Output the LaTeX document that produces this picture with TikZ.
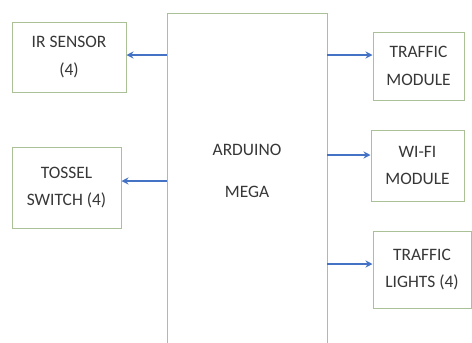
\documentclass[tikz,border=0pt]{standalone}
\usepackage{fontspec}
\setmainfont{Carlito}
\usetikzlibrary{positioning,arrows.meta}
\definecolor{boxgreen}{RGB}{170,192,150}
\definecolor{arrowblue}{RGB}{68,114,196}
\definecolor{txtgrey}{RGB}{55,55,55}
\begin{document}
\begin{tikzpicture}[x=1bp,y=-1bp,font=\fontsize{17.5}{28}\selectfont,
		blk/.style={draw=boxgreen,line width=1pt,align=center,inner sep=0pt,text=txtgrey},
		link/.style={-{Stealth[length=7pt,width=7pt]},draw=arrowblue,line width=1.8pt}]
		\useasboundingbox[fill=white] (0,0) rectangle (472,342);
		% controller
		\node[blk,minimum width=160bp,minimum height=334bp] (mega) at (247,180) {};
		\node[align=center,font=\fontsize{17.5}{42}\selectfont,text=txtgrey] (megatxt) at (247,171) {ARDUINO\\MEGA};
		% inputs
		\node[blk,minimum width=114bp,minimum height=70bp] (ir) at (69,57) {IR SENSOR\\(4)};
		\node[blk,minimum width=109bp,minimum height=81bp] (tossel) at (66.5,187.5) {TOSSEL\\SWITCH (4)};
		% outputs
		\node[blk,minimum width=91bp,minimum height=68bp] (tmod) at (418.5,66) {TRAFFIC\\MODULE};
		\node[blk,minimum width=93bp,minimum height=71bp] (wifi) at (417.5,165.5) {WI-FI\\MODULE};
		\node[blk,minimum width=98bp,minimum height=77bp] (tlight) at (422,269.5) {TRAFFIC\\LIGHTS (4)};
		\coordinate (m1) at (167,55);
		\coordinate (m2) at (167,181);
		\coordinate (m3) at (327,55);
		\coordinate (m4) at (327,155);
		\coordinate (m5) at (327,264);
		\path
			(m1) edge[link] (m1 -| ir.east)
			(m2) edge[link] (m2 -| tossel.east)
			(m3) edge[link] (m3 -| tmod.west)
			(m4) edge[link] (m4 -| wifi.west)
			(m5) edge[link] (m5 -| tlight.west)
		;
	\end{tikzpicture}
\end{document}
